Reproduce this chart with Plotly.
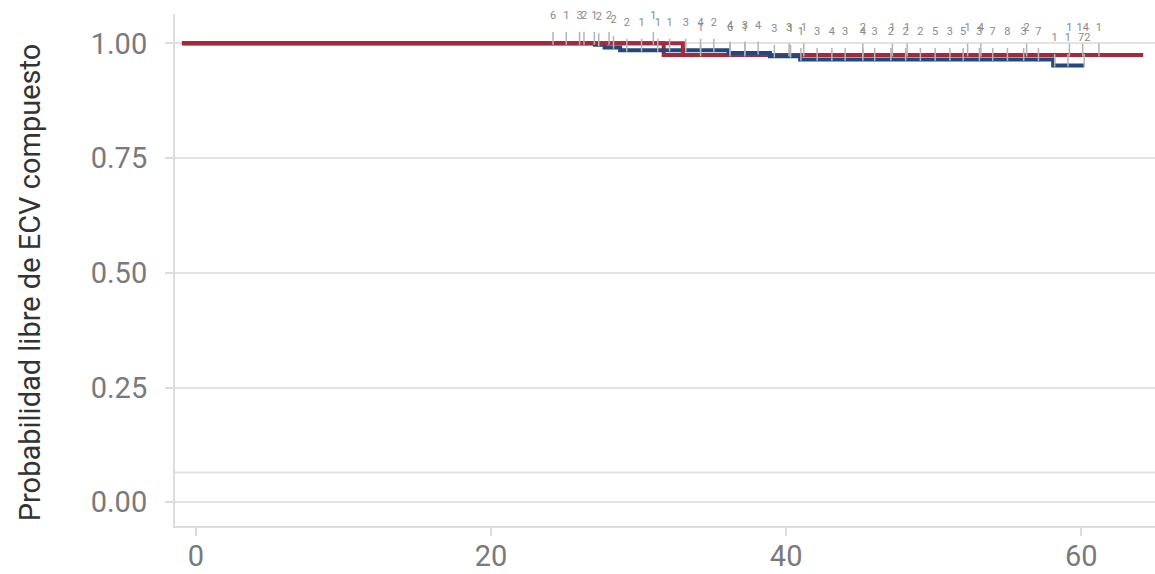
import numpy as np
import plotly.graph_objects as go

# Kaplan-Meier step curves (time in months, survival probability)
red_times = [-0.95, 31.7, 64.2]
red_surv = [1.0, 0.9745, 0.9745]
red_upper_times = [-0.95, 33.0]
red_upper_surv = [1.0, 0.9745]

blue_times = [-0.95, 27.05, 27.7, 28.75, 36.1, 38.9, 40.95, 58.1, 60.2]
blue_surv = [1.0, 0.997, 0.991, 0.985, 0.979, 0.972, 0.965, 0.952, 0.952]

# Censoring times and number censored at each time
red_cens_t = [24.2, 26.0, 27.0, 28.0, 31.0, 34.2, 36.2, 37.2, 40.2, 41.2, 45.2,
              47.2, 48.2, 52.3, 53.2, 56.3, 59.2, 60.1, 61.2]
red_cens_n = [6, 3, 1, 2, 1, 1, 6, 1, 3, 1, 2, 1, 1, 1, 4, 2, 1, 14, 1]

blue_cens_t = [25.1, 26.3, 27.3, 28.3, 29.2, 30.2, 31.3, 32.1, 33.2, 34.2, 35.1,
               36.2, 37.2, 38.1, 39.2, 40.3, 41.0, 42.1, 43.1, 44.0, 45.2, 46.0,
               47.1, 48.1, 49.1, 50.1, 51.1, 52.0, 53.1, 54.0, 55.0, 56.1, 57.1,
               58.2, 59.1, 60.2]
blue_cens_n = [1, 2, 2, 2, 2, 1, 1, 1, 3, 4, 2, 4, 3, 4, 3, 1, 1, 3, 4, 3, 4, 3,
               2, 2, 2, 5, 3, 5, 3, 7, 8, 3, 7, 1, 1, 72]

y_ticks = [0.0, 0.25, 0.5, 0.75, 1.0]
y_ticktext = ["0.00", "0.25", "0.50", "0.75", "1.00"]
x_ticks = [0, 20, 40, 60]
low_ref_level = 0.065
y_title = "Probabilidad libre de ECV compuesto"

RED = "#A12A3D"
BLUE = "#23487D"
GRID = "#E2E2E2"
FONT = "Roboto, sans-serif"


def surv_at(times, surv, t):
    idx = np.searchsorted(np.asarray(times), t, side="right") - 1
    return surv[max(idx, 0)]


def censor_marks(times, surv, ct, cn):
    xs, ys, lx, ly, lt = [], [], [], [], []
    for t, n in zip(ct, cn):
        v = surv_at(times, surv, t)
        xs += [t, t, None]
        ys += [v - 0.003, v + 0.025, None]
        lx.append(t)
        ly.append(v + 0.059)
        lt.append(str(n))
    return xs, ys, lx, ly, lt


fig = go.Figure()

fig.add_trace(go.Scatter(x=red_times, y=red_surv, mode="lines",
                         line=dict(color=RED, width=4, shape="hv"),
                         showlegend=False, hoverinfo="skip"))
fig.add_trace(go.Scatter(x=blue_times, y=blue_surv, mode="lines",
                         line=dict(color=BLUE, width=4, shape="hv"),
                         showlegend=False, hoverinfo="skip"))
fig.add_trace(go.Scatter(x=red_upper_times, y=red_upper_surv, mode="lines",
                         line=dict(color=RED, width=4, shape="hv"),
                         showlegend=False, hoverinfo="skip"))

for times, surv, ct, cn in [(red_times, red_surv, red_cens_t, red_cens_n),
                            (blue_times, blue_surv, blue_cens_t, blue_cens_n)]:
    xs, ys, lx, ly, lt = censor_marks(times, surv, ct, cn)
    fig.add_trace(go.Scatter(x=xs, y=ys, mode="lines",
                             line=dict(color="#B4B4B4", width=1.5),
                             showlegend=False, hoverinfo="skip"))
    fig.add_trace(go.Scatter(x=lx, y=ly, mode="text", text=lt,
                             textfont=dict(family=FONT, size=11, color="#8A8A8A"),
                             textposition="middle center", cliponaxis=False,
                             showlegend=False, hoverinfo="skip"))

fig.add_shape(type="line", xref="paper", x0=0, x1=1, yref="y",
              y0=low_ref_level, y1=low_ref_level,
              line=dict(color=GRID, width=2), layer="below")

# vertical axis title
fig.add_annotation(text=y_title, textangle=-90, showarrow=False,
                   xref="paper", yref="paper", x=-0.148, y=0.476,
                   xanchor="center", yanchor="middle",
                   font=dict(family=FONT, size=29, color="#333333"))

fig.update_layout(
    width=1155, height=574,
    margin=dict(l=175, r=0, t=14, b=48),
    paper_bgcolor="white", plot_bgcolor="white",
    font=dict(family=FONT),
    xaxis=dict(range=[-1.42, 65.0], tickvals=x_ticks, showgrid=False,
               zeroline=False, showline=True, linecolor="#DDDDDD", linewidth=2,
               ticks="outside", ticklen=8, tickwidth=2, tickcolor="#DDDDDD",
               tickfont=dict(family=FONT, size=29, color="#7A7A7A"),
               ticklabelstandoff=-5, automargin=False),
    yaxis=dict(range=[-0.0516, 1.064], tickvals=y_ticks, ticktext=y_ticktext,
               showgrid=True, gridcolor=GRID, gridwidth=2, zeroline=False,
               showline=True, linecolor="#DDDDDD", linewidth=2,
               ticks="outside", ticklen=8, tickwidth=2, tickcolor="#DDDDDD",
               tickfont=dict(family=FONT, size=29, color="#7A7A7A"),
               ticklabelstandoff=12, automargin=False),
)

fig.write_html("out.html")
